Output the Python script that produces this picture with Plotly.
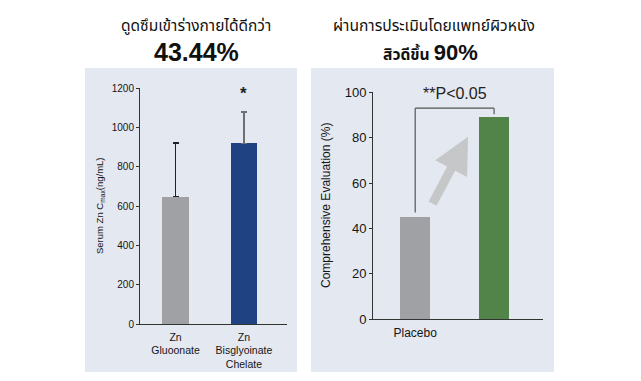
import plotly.graph_objects as go

# ---- data ----
left_categories = ["Zn<br>Gluoonate", "Zn<br>Bisglyoinate<br>Chelate"]
left_values = [647, 918]
left_err_plus = [274, 158]
left_yticks = [0, 200, 400, 600, 800, 1000, 1200]

right_categories = ["Placebo", ""]
right_values = [45, 89]
right_yticks = [0, 20, 40, 60, 80, 100]

W, H = 641, 381
def px(x): return x / W
def py(y): return 1 - y / H

FONT = "Liberation Sans, Arial, sans-serif"
THAI = "Noto Sans, Noto Sans Thai, sans-serif"
BG = "#e4e8f1"
AX = "#333333"
TXT = "#151515"

fig = go.Figure()

# left bars
fig.add_trace(go.Bar(x=[0], y=[left_values[0]], width=0.39, marker_color="#a0a1a5",
                     error_y=dict(type="data", symmetric=False, array=[left_err_plus[0]], arrayminus=[0],
                                  color="#222222", thickness=1.3, width=3),
                     xaxis="x", yaxis="y", showlegend=False))
fig.add_trace(go.Bar(x=[1], y=[left_values[1]], width=0.39, marker_color="#1f4283",
                     error_y=dict(type="data", symmetric=False, array=[left_err_plus[1]], arrayminus=[0],
                                  color="#6d6f73", thickness=1.8, width=3),
                     xaxis="x", yaxis="y", showlegend=False))
# right bars
fig.add_trace(go.Bar(x=[0, 1], y=right_values, width=0.38, marker_color=["#a0a1a5", "#52844a"],
                     xaxis="x2", yaxis="y2", showlegend=False))

line_common = dict(showgrid=False, zeroline=False, showline=True, linecolor=AX, linewidth=1,
                   automargin=False)

fig.update_layout(
    template="none",
    width=W, height=H, margin=dict(l=0, r=0, t=0, b=0, pad=0), autosize=False,
    paper_bgcolor="white", plot_bgcolor="rgba(0,0,0,0)",
    bargap=0,
    xaxis=dict(domain=[px(140), px(287)], range=[-0.52, 1.63], tickvals=[0, 1], ticktext=left_categories,
               ticks="", anchor="y", ticklabelstandoff=3, **line_common,
               tickfont=dict(family=FONT, size=10.5, color=TXT)),
    yaxis=dict(domain=[py(324), py(88)], range=[0, 1200], tickvals=left_yticks, ticks="outside",
               ticklen=3, tickcolor=AX, anchor="x", **line_common,
               tickfont=dict(family=FONT, size=10, color=TXT)),
    xaxis2=dict(domain=[px(373), px(543)], range=[-0.535, 1.62], tickvals=[0, 1], ticktext=right_categories,
                ticks="", anchor="y2", ticklabelstandoff=2, **line_common,
                tickfont=dict(family=FONT, size=12, color=TXT)),
    yaxis2=dict(domain=[py(319.3), py(92.3)], range=[0, 100], tickvals=right_yticks, ticks="outside",
                ticklen=3, tickcolor=AX, anchor="x2", **line_common,
                tickfont=dict(family=FONT, size=13, color=TXT)),
)

shapes = [
    dict(type="rect", xref="paper", yref="paper", x0=px(85), x1=px(297), y0=py(372), y1=py(68),
         fillcolor=BG, line=dict(width=0), layer="below"),
    dict(type="rect", xref="paper", yref="paper", x0=px(311), x1=px(554), y0=py(372), y1=py(68),
         fillcolor=BG, line=dict(width=0), layer="below"),
    # bracket
    dict(type="line", xref="x2", yref="y2", x0=0, x1=0, y0=47, y1=93, line=dict(color="#555", width=1.2)),
    dict(type="line", xref="x2", yref="y2", x0=0, x1=1, y0=93, y1=93, line=dict(color="#555", width=1.2)),
    dict(type="line", xref="x2", yref="y2", x0=1, x1=1, y0=93, y1=90.3, line=dict(color="#555", width=1.2)),
]
fig.update_layout(shapes=shapes)

C = dict(xanchor="center", yanchor="middle", showarrow=False)
ann = [
    dict(text="ดูดซึมเข้าร่างกายได้ดีกว่า", xref="paper", yref="paper", x=px(196), y=py(25),
         font=dict(family=THAI, size=15.5, color="#111"), **C),
    dict(text="<b>43.44%</b>", xref="paper", yref="paper", x=px(196), y=py(52),
         font=dict(family=FONT, size=25, color="#111"), **C),
    dict(text="ผ่านการประเมินโดยแพทย์ผิวหนัง", xref="paper", yref="paper", x=px(434), y=py(25),
         font=dict(family=THAI, size=15.6, color="#111"), **C),
    dict(text="<b>สิวดีขึ้น <span style='font-size:22px;font-family:Liberation Sans'>90%</span></b>",
         xref="paper", yref="paper", x=px(430), y=py(52),
         font=dict(family=THAI, size=15.6, color="#111"), **C),
    dict(text="Serum Zn C<sub>max</sub>(ng/mL)", xref="paper", yref="paper", x=px(100), y=py(206),
         textangle=-90, font=dict(family=FONT, size=9.5, color=TXT), **C),
    dict(text="Comprehensive Evaluation (%)", xref="paper", yref="paper", x=px(326), y=py(206),
         textangle=-90, font=dict(family=FONT, size=12, color=TXT), **C),
    dict(text="<b>*</b>", xref="x", yref="y", x=1, y=1170,
         font=dict(family=FONT, size=17, color="#222"), **C),
    dict(text="**P<0.05", xref="x2", yref="y2", x=0.5, y=99.5,
         font=dict(family=FONT, size=16, color="#222"), **C),
    dict(text="", xref="x2", yref="y2", x=0.67, y=80.4, axref="x2", ayref="y2", ax=0.21, ay=50.3,
         showarrow=True, arrowhead=2, arrowsize=0.8, arrowwidth=9, arrowcolor="#c6c7c9"),
]
fig.update_layout(annotations=ann)

fig.write_html("out.html", config={"displayModeBar": False},
               post_script="document.body.style.margin='0';")
